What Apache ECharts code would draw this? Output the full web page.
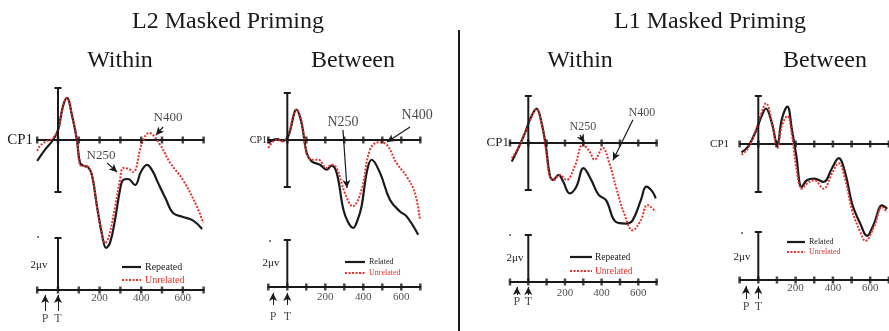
<!DOCTYPE html>
<html>
<head>
<meta charset="utf-8">
<title>Masked priming ERPs</title>
<script src="https://cdn.jsdelivr.net/npm/echarts@6/dist/echarts.min.js"></script>
<style>
  html, body { margin: 0; padding: 0; background: #fff; }
  #chart { width: 889px; height: 331px; }
</style>
</head>
<body>
<div id="chart"></div>
<script>
// time in ms, amplitude in µV (as drawn, up = positive)
const tickMs = [-100, 0, 100, 200, 300, 400, 500, 600, 700]
const tickLabels = [200, 400, 600]
const groupTitles = ['L2 Masked Priming', 'L1 Masked Priming']
const panelTitles = ['Within', 'Between', 'Within', 'Between']
const legendNames = [['Repeated', 'Unrelated'], ['Related', 'Unrelated'], ['Repeated', 'Unrelated'], ['Related', 'Unrelated']]
const primeOnset = [-62, -75, -62, -66]

const l2WithinRepeated = [[-100, -0.8], [-63, -0.38], [-24, 0], [0, 0.38], [24, 1.3], [43, 1.62], [67, 0.96], [91, 0], [106, -0.88], [125, -1.0], [144, -1.04], [163, -1.35], [188, -2.58], [212, -3.65], [231, -4.15], [250, -3.96], [274, -3.08], [298, -1.92], [313, -1.54], [337, -1.5], [370, -1.73], [400, -1.2], [428, -0.96], [455, -1.2], [481, -1.65], [520, -2.3], [553, -2.81], [601, -2.96], [650, -3.1], [693, -3.42]]
const l2WithinUnrelated = [[-100, -0.42], [-87, -0.23], [-63, -0.08], [-24, 0.08], [0, 0.38], [24, 1.3], [43, 1.62], [67, 0.96], [91, 0], [106, -0.96], [125, -1.0], [144, -1.04], [163, -1.35], [188, -2.58], [208, -3.5], [226, -3.96], [245, -3.7], [274, -2.58], [298, -1.54], [313, -1.08], [337, -1.1], [361, -1.23], [404, -0.12], [438, 0.27], [491, -0.19], [539, -0.88], [601, -1.54], [669, -2.58], [698, -3.19]]

const l2BetweenRelated = [[-100, -0.13], [-56, 0.04], [-21, -0.03], [5, 0.16], [49, 1.29], [75, 0.72], [102, -0.55], [128, -0.91], [172, -1.05], [207, -1.26], [233, -1.09], [260, -1.4], [295, -2.96], [320, -3.5], [347, -3.74], [370, -3.4], [391, -2.82], [420, -1.3], [444, -0.84], [488, -1.4], [540, -2.54], [593, -3.04], [628, -3.25], [689, -4.03]]
const l2BetweenUnrelated = [[-100, -0.34], [-56, 0.01], [-21, -0.06], [5, 0.23], [49, 1.29], [75, 0.79], [102, -0.55], [128, -0.84], [163, -0.84], [207, -1.19], [233, -1.05], [260, -1.19], [303, -2.26], [344, -2.82], [391, -2.11], [435, -0.41], [479, -0.1], [523, -0.2], [575, -0.98], [628, -1.55], [672, -2.26], [698, -3.39]]

const l1WithinRepeated = [[-90, -0.79], [-54, -0.21], [-18, 0.43], [13, 1.07], [45, 1.46], [72, 0.86], [96, -0.14], [117, -1.36], [135, -1.57], [166, -1.36], [190, -1.64], [226, -2.14], [262, -1.86], [301, -1.07], [343, -1.57], [384, -2.21], [424, -2.43], [478, -3.36], [532, -3.43], [569, -3.29], [614, -2.43], [644, -1.86], [677, -2.07], [695, -2.36]]
const l1WithinUnrelated = [[-90, -0.64], [-54, -0.21], [-18, 0.43], [13, 1.03], [45, 1.43], [72, 0.86], [96, -0.29], [117, -1.43], [139, -1.57], [171, -1.36], [208, -1.57], [253, -1.0], [298, -0.07], [334, -0.36], [361, -0.71], [406, -0.21], [442, -0.86], [478, -1.86], [523, -3.0], [569, -3.71], [614, -3.29], [650, -2.64], [695, -2.93]]

const l1BetweenRelated = [[-90, -0.35], [-54, -0.1], [-9, 0.61], [18, 1.17], [41, 1.48], [72, 0.89], [102, -0.03], [126, 1.03], [156, 1.56], [180, 0.61], [203, -0.45], [233, -1.79], [260, -1.51], [300, -1.44], [350, -1.58], [395, -1.01], [431, -0.59], [467, -1.23], [503, -2.49], [548, -3.34], [583, -3.83], [619, -3.34], [664, -2.56], [691, -2.7]]
const l1BetweenUnrelated = [[-90, -0.45], [-54, -0.17], [-9, 0.68], [18, 1.31], [41, 1.7], [72, 0.96], [102, -0.17], [126, 0.75], [156, 1.17], [180, 0.39], [203, -0.94], [233, -1.86], [260, -1.65], [300, -1.51], [350, -1.86], [395, -1.23], [431, -0.8], [467, -1.51], [503, -2.77], [548, -3.69], [574, -4.04], [619, -3.48], [664, -2.63], [691, -2.85]]

const waves = [
  [l2WithinRepeated, l2WithinUnrelated],
  [l2BetweenRelated, l2BetweenUnrelated],
  [l1WithinRepeated, l1WithinUnrelated],
  [l1BetweenRelated, l1BetweenUnrelated]
]

// layout of each panel (pixels), and where the N250 / N400 notes sit (data units)
// arrow: [tip, foot, letter, tick label] in px below the calibration axis
const layout = [
  { zeroX: 58, per100: 20.8, base: 140, perUv: 26, calBase: 290, yMin: -4.6, yMax: 2.4,
    arrow: [5, 21, 29, 8], cp1: [33, 140, 15], uv: [39, 265], dot: [38, 237],
    legend: { x1: 122, x2: 141, tx: 145, y: [267, 280], size: 10 }, noteSize: 13,
    notes: [{ name: 'N400', text: [529, 0.88], from: [505, 0.5], to: [471, 0.19] },
            { name: 'N250', text: [207, -0.58], from: [236, -0.88], to: [284, -1.23] }] },
  { zeroX: 287.3, per100: 19, base: 140, perUv: 23.5, calBase: 287, yMin: -4.5, yMax: 2.4,
    arrow: [6, 18, 30, 10], cp1: [267, 140, 10], uv: [271, 263], dot: [270, 241],
    legend: { x1: 345, x2: 365, tx: 369, y: [262, 273], size: 8 }, noteSize: 14,
    notes: [{ name: 'N250', text: [293, 0.77], from: [293, 0.43], to: [314, -2.04] },
            { name: 'N400', text: [683, 1.06], from: [646, 0.55], to: [525, -0.09] }] },
  { zeroX: 528.3, per100: 18.33, base: 143, perUv: 23.5, calBase: 282, yMin: -4.1, yMax: 2.4,
    arrow: [5, 13, 20, 11], cp1: [509, 143, 13], uv: [515, 258], dot: [510, 235],
    legend: { x1: 570, x2: 592, tx: 595, y: [257, 271], size: 9.5 }, noteSize: 12,
    notes: [{ name: 'N250', text: [298, 0.69], from: [282, 0.34], to: [304, 0.02] },
            { name: 'N400', text: [620, 1.29], from: [571, 0.99], to: [462, -0.73] }] },
  { zeroX: 758.3, per100: 18.65, base: 144, perUv: 24, calBase: 280, yMin: -4.4, yMax: 2.4,
    arrow: [6, 19, 27, 8], cp1: [729, 144, 11], uv: [742, 257], dot: [742, 233],
    legend: { x1: 787, x2: 805, tx: 809, y: [242, 252], size: 8 }, noteSize: 12,
    notes: [] }
]
const titlePos = [[228, 22], [710, 22]]
const subtitlePos = [[120, 61], [353, 61], [580, 61], [825, 61]]

const serif = '"Liberation Serif", "DejaVu Serif", serif'
const ink = '#1a1a1a'
const red = '#e2332f'
const calMin = -1.6
const calMax = 2.4

const grid = []
const xAxis = []
const yAxis = []
const series = []
const graphic = []

const tickSeries = (ax) => ({
  type: 'scatter', xAxisIndex: ax, yAxisIndex: ax, silent: true, z: 6,
  symbol: 'rect', symbolSize: [2.5, 7], itemStyle: { color: ink },
  data: tickMs.map(t => [t, 0])
})

// invisible points that only carry a text label
const labelSeries = (ax, data, size, extra) => Object.assign({
  type: 'scatter', xAxisIndex: ax, yAxisIndex: ax, silent: true, clip: false, z: 7,
  symbolSize: 1, itemStyle: { color: 'rgba(0,0,0,0)' }, data,
  label: { show: true, position: 'inside', formatter: '{b}', fontFamily: serif, fontSize: size, color: ink }
}, extra)

layout.forEach((L, i) => {
  const main = i * 2
  const cal = i * 2 + 1
  const left = L.zeroX - L.per100
  const width = L.per100 * 8

  grid.push({ left, width, top: L.base - L.yMax * L.perUv, height: (L.yMax - L.yMin) * L.perUv, outerBoundsMode: 'none' })
  grid.push({ left, width, top: L.calBase - calMax * L.perUv, height: (calMax - calMin) * L.perUv, outerBoundsMode: 'none' })

  ;[main, cal].forEach(g => {
    xAxis.push({
      gridIndex: g, type: 'value', min: -100, max: 700, interval: 100,
      axisLine: { onZero: true, lineStyle: { color: ink, width: 2 } },
      axisTick: { show: false }, axisLabel: { show: false }, splitLine: { show: false }
    })
  })
  yAxis.push({ gridIndex: main, type: 'value', min: L.yMin, max: L.yMax, show: false })
  yAxis.push({ gridIndex: cal, type: 'value', min: calMin, max: calMax, show: false })

  // waveforms
  series.push({
    type: 'line', xAxisIndex: main, yAxisIndex: main, data: waves[i][0], smooth: 0.4,
    symbol: 'none', z: 4, lineStyle: { color: ink, width: 2.2 }
  })
  series.push({
    type: 'line', xAxisIndex: main, yAxisIndex: main, data: waves[i][1], smooth: 0.4,
    symbol: 'none', z: 5, lineStyle: { color: red, width: 2, type: [2, 1.5] }
  })
  series.push(tickSeries(main))
  // vertical amplitude bar at target onset
  series.push({
    type: 'line', xAxisIndex: main, yAxisIndex: main, data: [[0, -2], [0, 2]], silent: true,
    symbol: 'rect', symbolSize: [7, 2], itemStyle: { color: ink }, lineStyle: { color: ink, width: 2 }, z: 6
  })
  // N250 / N400 notes
  series.push(labelSeries(main, L.notes.map(n => ({ name: n.name, value: n.text })), L.noteSize, {
    markLine: {
      silent: true, animation: false, symbol: ['none', 'arrow'], symbolSize: [6, 8],
      label: { show: false }, lineStyle: { color: ink, width: 1.2, type: 'solid' },
      data: L.notes.map(n => [{ coord: n.from }, { coord: n.to }])
    }
  }))

  // calibration axis
  series.push(tickSeries(cal))
  series.push({
    type: 'line', xAxisIndex: cal, yAxisIndex: cal, data: [[0, 0], [0, 2]], silent: true,
    symbol: 'rect', symbolSize: [7, 2], itemStyle: { color: ink }, lineStyle: { color: ink, width: 2 }, z: 6
  })
  const tip = -L.arrow[0] / L.perUv
  const foot = -L.arrow[1] / L.perUv
  const letterY = -L.arrow[2] / L.perUv
  const tickY = -L.arrow[3] / L.perUv
  series.push(labelSeries(cal, tickLabels.map(v => ({ name: String(v), value: [v, tickY] })), 11))
  series.push(labelSeries(cal, [{ name: 'P', value: [primeOnset[i], letterY] }, { name: 'T', value: [0, letterY] }], 12, {
    markLine: {
      silent: true, animation: false, symbol: ['none', 'arrow'], symbolSize: [6, 8],
      label: { show: false }, lineStyle: { color: ink, width: 1, type: 'solid' },
      data: [[{ coord: [primeOnset[i], foot] }, { coord: [primeOnset[i], tip] }],
             [{ coord: [0, foot] }, { coord: [0, tip] }]]
    }
  }))

  // texts around the panel
  graphic.push({
    type: 'text', x: L.cp1[0], y: L.cp1[1],
    style: { text: 'CP1', fontFamily: serif, fontSize: L.cp1[2], fill: ink, textAlign: 'right', textVerticalAlign: 'middle' }
  })
  graphic.push({
    type: 'text', x: L.uv[0], y: L.uv[1],
    style: { text: '2μv', fontFamily: serif, fontSize: 11, fill: ink, textAlign: 'center', textVerticalAlign: 'middle' }
  })
  graphic.push({ type: 'circle', shape: { cx: L.dot[0], cy: L.dot[1], r: 1 }, style: { fill: '#555' } })
  graphic.push({
    type: 'text', x: subtitlePos[i][0], y: subtitlePos[i][1],
    style: { text: panelTitles[i], fontFamily: serif, fontSize: 24, fill: ink, textAlign: 'center', textVerticalAlign: 'middle' }
  })

  // legend
  const lg = L.legend
  graphic.push({ type: 'line', shape: { x1: lg.x1, y1: lg.y[0], x2: lg.x2, y2: lg.y[0] }, style: { stroke: ink, lineWidth: 2.2 } })
  graphic.push({ type: 'line', shape: { x1: lg.x1, y1: lg.y[1], x2: lg.x2, y2: lg.y[1] }, style: { stroke: red, lineWidth: 2, lineDash: [2, 1.5] } })
  graphic.push({
    type: 'text', x: lg.tx, y: lg.y[0],
    style: { text: legendNames[i][0], fontFamily: serif, fontSize: lg.size, fill: ink, textVerticalAlign: 'middle' }
  })
  graphic.push({
    type: 'text', x: lg.tx, y: lg.y[1],
    style: { text: legendNames[i][1], fontFamily: serif, fontSize: lg.size, fill: red, textVerticalAlign: 'middle' }
  })
})

groupTitles.forEach((t, k) => {
  graphic.push({
    type: 'text', x: titlePos[k][0], y: titlePos[k][1],
    style: { text: t, fontFamily: serif, fontSize: 24, fill: ink, textAlign: 'center', textVerticalAlign: 'middle' }
  })
})
// divider between L2 and L1
graphic.push({ type: 'line', shape: { x1: 459, y1: 30, x2: 459, y2: 331 }, style: { stroke: ink, lineWidth: 2 } })

const chart = echarts.init(document.getElementById('chart'))
chart.setOption({
  animation: false,
  backgroundColor: '#fff',
  grid, xAxis, yAxis, series, graphic
})
</script>
</body>
</html>
